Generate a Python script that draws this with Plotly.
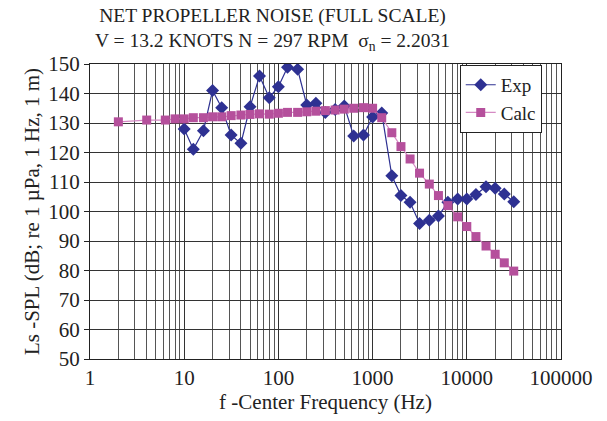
import plotly.graph_objects as go

exp_freq = [10, 12.5, 16, 20, 25, 31.5, 40, 50, 63, 80, 100, 125, 160, 200, 250, 315, 400, 500,
            630, 800, 1000, 1250, 1600, 2000, 2500, 3150, 4000, 5000, 6300, 8000, 10000, 12500,
            16000, 20000, 25000, 31500]
exp_spl = [128.0, 121.1, 127.4, 141.0, 135.2, 125.9, 123.1, 135.5, 145.9, 138.6, 142.3, 148.9,
           148.2, 136.1, 136.7, 133.6, 134.6, 135.8, 125.6, 125.9, 132.0, 133.4, 112.1, 105.4,
           103.1, 95.9, 97.0, 98.5, 103.1, 104.2, 104.2, 105.8, 108.4, 107.9, 105.9, 103.3]

calc_freq = [2, 4, 6.3, 8, 10, 12.5, 16, 20, 25, 31.5, 40, 50, 63, 80, 100, 125, 160, 200, 250,
             315, 400, 500, 630, 800, 1000, 1250, 1600, 2000, 2500, 3150, 4000, 5000, 6300,
             8000, 10000, 12500, 16000, 20000, 25000, 31500]
calc_spl = [130.4, 131.0, 131.0, 131.4, 131.4, 131.8, 131.8, 132.1, 132.1, 132.5, 132.7, 132.9,
            133.1, 133.0, 133.3, 133.6, 133.6, 133.8, 134.0, 134.2, 134.4, 134.7, 135.0, 135.2,
            135.0, 131.8, 126.7, 122.0, 117.8, 113.0, 109.3, 105.4, 102.0, 98.2, 94.9, 91.5,
            88.3, 85.5, 82.6, 79.8]

x_ticks = [1, 10, 100, 1000, 10000, 100000]
x_ticklabels = ["1", "10", "100", "1000", "10000", "100000"]
y_ticks = list(range(50, 151, 10))

FONT = "Liberation Serif, Times New Roman, serif"
TXT = "#222"

fig = go.Figure()
fig.add_trace(go.Scatter(
    x=exp_freq, y=exp_spl, mode="lines+markers", name="Exp",
    line=dict(color="#2E3192", width=1.2),
    marker=dict(symbol="diamond", size=10, color="#2E3192"),
))
fig.add_trace(go.Scatter(
    x=calc_freq, y=calc_spl, mode="lines+markers", name="Calc",
    line=dict(color="#D58AC4", width=1.2),
    marker=dict(symbol="square", size=9, color="#B5509C"),
))

fig.update_layout(
    width=607, height=421,
    margin=dict(l=90, r=46, t=64, b=62),
    paper_bgcolor="white", plot_bgcolor="white",
    font=dict(family=FONT, size=20, color=TXT),
    showlegend=True,
    legend=dict(
        x=0.785, y=0.997, xanchor="left", yanchor="top",
        bgcolor="white", bordercolor=TXT, borderwidth=1,
        font=dict(family=FONT, size=19, color=TXT),
        tracegroupgap=0, itemwidth=30,
    ),
)
fig.add_annotation(text="NET PROPELLER NOISE (FULL SCALE)<br>V = 13.2 KNOTS N = 297 RPM  σ<sub>n</sub> = 2.2031",
                   x=0.387, y=1.0, xref="paper", yref="paper", yshift=8,
                   xanchor="center", yanchor="bottom", showarrow=False,
                   font=dict(family=FONT, size=19.5, color=TXT), align="center")

fig.update_xaxes(
    type="log", range=[0, 5],
    tickvals=x_ticks, ticktext=x_ticklabels,
    showgrid=True, gridcolor="#333", gridwidth=1,
    minor=dict(dtick="D1", showgrid=True, gridcolor="#555", gridwidth=1, ticks=""),
    showline=True, linecolor=TXT, linewidth=1.2, mirror=True,
    ticks="", zeroline=False,
    title=dict(text="f -Center Frequency (Hz)", font=dict(family=FONT, size=21), standoff=4),
    tickfont=dict(family=FONT, size=21),
)
fig.update_yaxes(
    range=[50, 150], tickvals=y_ticks,
    showgrid=True, gridcolor="#333", gridwidth=1,
    showline=True, linecolor=TXT, linewidth=1.2, mirror=True,
    ticks="outside", ticklen=5, tickcolor=TXT, zeroline=False,
    title=dict(text="Ls -SPL (dB; re 1 µPa, 1 Hz, 1 m)", font=dict(family=FONT, size=21), standoff=2),
    tickfont=dict(family=FONT, size=21),
)

fig.write_html("out.html")
